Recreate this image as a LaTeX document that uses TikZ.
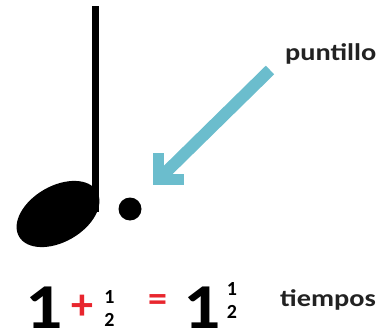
\documentclass[tikz,border=0pt]{standalone}
\usepackage{fontspec}
\setmainfont{Carlito}
\definecolor{arrowblue}{HTML}{6BBDCD}
\definecolor{plusred}{HTML}{E8262E}
\definecolor{labelgray}{HTML}{222222}
\tikzset{
  label text/.style={font=\bfseries\fontsize{24}{24}\selectfont, text=labelgray, inner sep=0pt, anchor=base west, xscale=1.18},
  big one/.style={font=\bfseries\fontsize{64}{64}\selectfont, inner sep=0pt, anchor=base, xscale=1.15},
  half/.style={font=\bfseries\fontsize{20}{22.5}\selectfont, inner sep=0pt, align=center, anchor=base},
  red sign/.style={font=\bfseries\fontsize{44}{44}\selectfont, text=plusred, inner sep=0pt},
}
\begin{document}
\begin{tikzpicture}[x=1pt,y=-1pt]
\useasboundingbox (0,0) rectangle (389,332);
% note
\fill[rotate around={30:(58,214)}] (58,214) ellipse [x radius=45, y radius=28];
\fill (92,6) rectangle (98.5,212);
\node[circle, fill=black, minimum size=23, inner sep=0pt] (dot) at (130,209) {};
% label
\node[label text] (puntillo) at (285,60) {puntillo};
\coordinate (arrowtail) at (270,70);
\coordinate (arrowtip) at (153,185);
\draw[arrowblue, line width=12] (arrowtail) -- ([shift={(8,-8)}]arrowtip);
\draw[arrowblue, line width=11, line join=miter] ([shift={(5.5,-32)}]arrowtip) -- ([shift={(5.5,-5.5)}]arrowtip) -- ([shift={(31,-5.5)}]arrowtip);
% equation
\node[big one] (one1) at (44,328) {1};
\node[red sign] (plus) at (82,307) {+};
\node[half] (half1) at (109.5,326) {1\\2};
\node[red sign, font=\bfseries\fontsize{38}{38}\selectfont] (equals) at (158,303) {=};
\node[big one] (one2) at (202,328) {1};
\node[half] (half2) at (232,318) {1\\2};
\node[label text] (tiempos) at (280,306) {tiempos};
\end{tikzpicture}
\end{document}
